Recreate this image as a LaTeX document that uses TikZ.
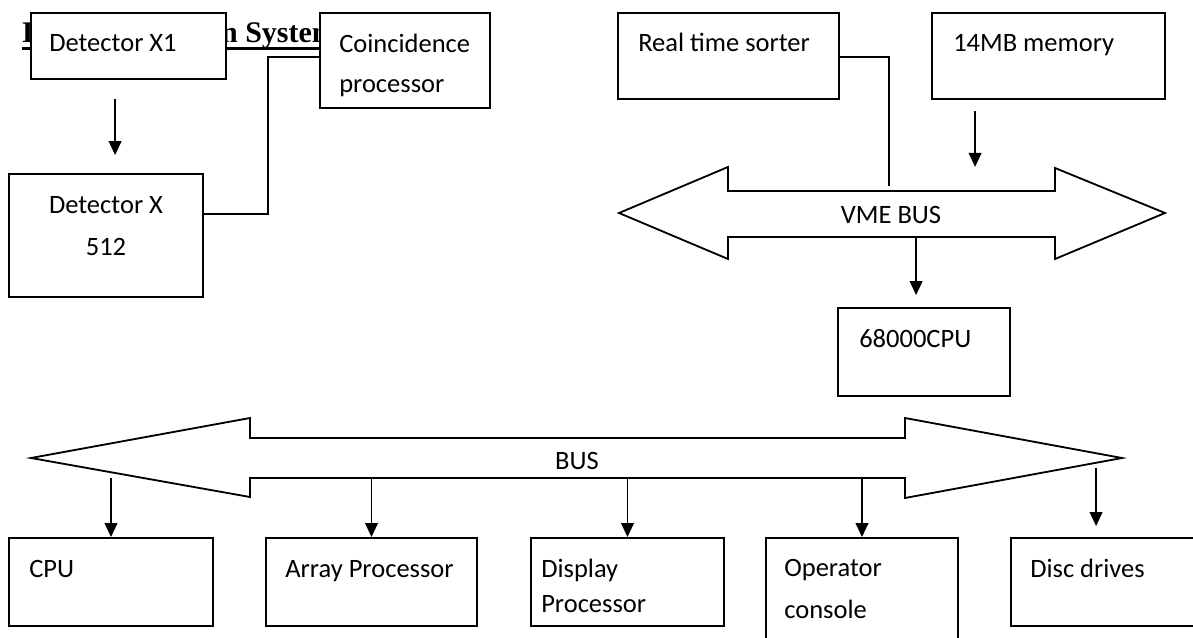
\documentclass[tikz,border=0pt]{standalone}
\usepackage{fontspec}
\setmainfont{Carlito}
\newfontfamily\headfont{Liberation Serif}
\usetikzlibrary{arrows.meta, calc, fit}
\tikzset{
  unitbox/.style={draw, line width=1.3pt, fill=white, inner sep=0pt}
}
\tikzset{
  boxtext/.style={font=\fontsize{18.85}{28.3}\selectfont, inner sep=0pt, anchor=base west, align=left}
}
\tikzset{
  flow/.style={->, line width=1.4pt},
  wire/.style={line width=1pt},
  bus/.style={line width=1.3pt, fill=white, line join=miter}
}

\begin{document}
\begin{tikzpicture}[x=0.025cm, y=-0.025cm, >={Triangle[length=10pt,width=9pt]}]
  \useasboundingbox (0,0) rectangle (1193,638);
  % heading, partly hidden by the first boxes
  \node[font=\headfont\bfseries\fontsize{21.3}{25}\selectfont, inner sep=0pt, anchor=base west] (title) at (22,42.5) {Data Acquisition System};
  \draw[line width=2pt] ([yshift=-4pt]title.base west) -- ([yshift=-4pt]title.base east);

  % detectors and coincidence unit (base = last line)
  \node[unitbox, fit={(31,13) (226,79)}] (det1) {}; \node[boxtext] (det1-t) at (49,52) {Detector X1};
  \node[unitbox, fit={(320,13) (490,108)}] (coinc) {}; \node[boxtext] (coinc-t) at (339,92) {Coincidence\\processor};
  \node[unitbox, fit={(9,174) (203,297)}] (det512) {};
  \node[boxtext, anchor=base, align=center] (det512-t) at (106,255) {Detector X\\[1.4pt]512};
  \draw[flow] ($(det1.south west)+(85,19)$) -- ($(det512.north west)+(107,-18)$);
  \draw[wire] ($(coinc.north west)+(0,45)$) -| ($(det512.north east)+(64,41)$) -- ($(det512.north east)+(0,41)$);

  % VME side
  \node[unitbox, fit={(618,13) (839,99)}] (rts) {}; \node[boxtext] (rts-t) at (638,52) {Real time sorter};
  \node[unitbox, fit={(932,13) (1165,99)}] (mem) {}; \node[boxtext] (mem-t) at (953,52) {14MB memory};
  \draw[bus] (619,213) -- (728,167) -- (728,191) -- (1055,191) -- (1055,168) -- (1165,213)
    -- (1055,259) -- (1055,237) -- (728,237) -- (728,259) -- cycle;
  \node[boxtext, anchor=center] (vme-t) at (891,215) {VME BUS};
  \coordinate (vme-in) at (889,186);
  \node[unitbox, fit={(838,308) (1010,396)}] (cpu68) {}; \node[boxtext] (cpu68-t) at (859,347) {68000CPU};
  \draw[wire] ($(rts.north east)+(0,45)$) -| (vme-in);
  \draw[flow] ($(mem.south west)+(44,11)$) -- ($(mem.south west)+(44,67)$);
  \draw[flow] ($(cpu68.north west)+(79,-71)$) -- ($(cpu68.north west)+(79,-12)$);

  % main bus and the units hanging on it
  \draw[bus] (31,458) -- (250,418) -- (250,438) -- (905,438) -- (905,418) -- (1122,458)
    -- (905,498) -- (905,478) -- (250,478) -- (250,497) -- cycle;
  \node[boxtext, anchor=center] (bus-t) at (577,461) {BUS};
  \coordinate (bus-low) at (0,478);
  \node[unitbox, fit={(9,538) (213,626)}] (cpu) {}; \node[boxtext] (cpu-t) at (29,577) {CPU};
  \node[unitbox, fit={(266,538) (477,626)}] (arr) {}; \node[boxtext] (arr-t) at (285,577) {Array Processor};
  \node[unitbox, fit={(531,538) (724,626)}] (disp) {}; \node[boxtext] (disp-t) at (541,612) {Display\\[-3.6pt]Processor};
  \node[unitbox, fit={(766,538) (958,660)}] (op) {}; \node[boxtext] (op-t) at (784,618) {Operator\\[1pt]console};
  \node[unitbox, fit={(1011,538) (1200,626)}] (disc) {}; \node[boxtext] (disc-t) at (1030,577) {Disc drives};
  \foreach \b in {cpu,arr,disp,op}
    \draw[flow] (\b.north |- bus-low) -- (\b.north);
  \draw[flow] ($(disc.north west)+(86,-69)$) -- ($(disc.north west)+(86,-11)$);
\end{tikzpicture}
\end{document}
